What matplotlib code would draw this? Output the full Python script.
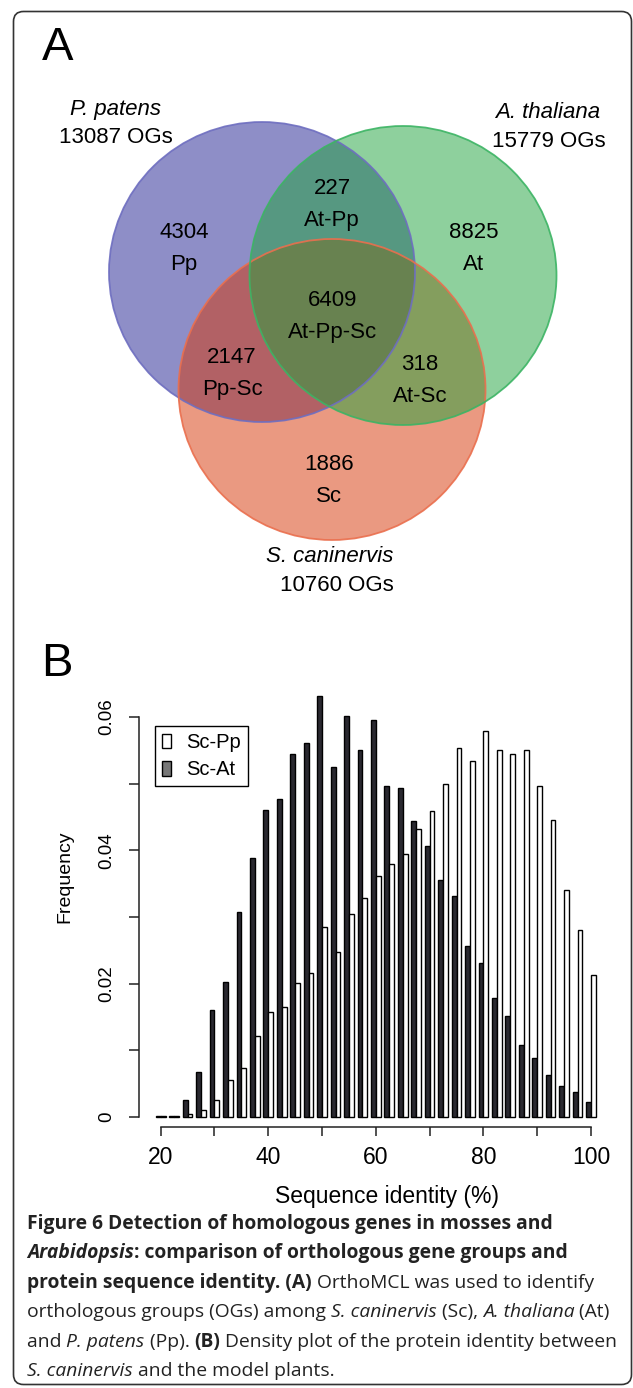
import numpy as np
import matplotlib
matplotlib.use('Agg')
import matplotlib.pyplot as plt
from matplotlib.patches import Ellipse, FancyBboxPatch, Patch

plt.rcParams['font.family'] = ['Liberation Sans', 'DejaVu Sans']

# ---- panel A : Venn counts ----
venn_sets = ['P. patens', 'A. thaliana', 'S. caninervis']
venn_totals = ['13087 OGs', '15779 OGs', '10760 OGs']
region_names = ['Pp', 'At-Pp', 'At', 'At-Pp-Sc', 'Pp-Sc', 'At-Sc', 'Sc']
region_counts = [4304, 227, 8825, 6409, 2147, 318, 1886]

# ---- panel B : identity histogram ----
identity = [20, 22.5, 25, 27.5, 30, 32.5, 35, 37.5, 40, 42.5, 45, 47.5, 50,
            52.5, 55, 57.5, 60, 62.5, 65, 67.5, 70, 72.5, 75, 77.5, 80,
            82.5, 85, 87.5, 90, 92.5, 95, 97.5, 100]
sc_at = [0.0002, 0.0002, 0.0025, 0.0067, 0.0161, 0.0203, 0.0308, 0.0388,
         0.0461, 0.0477, 0.0544, 0.0561, 0.0632, 0.0525, 0.0601, 0.0550,
         0.0595, 0.0497, 0.0494, 0.0444, 0.0406, 0.0356, 0.0331, 0.0257,
         0.0231, 0.0179, 0.0152, 0.0108, 0.0088, 0.0063, 0.0047, 0.0037,
         0.0023]
sc_pp = [0.0001, 0.0002, 0.0005, 0.0010, 0.0025, 0.0056, 0.0073, 0.0122,
         0.0157, 0.0165, 0.0201, 0.0216, 0.0285, 0.0248, 0.0305, 0.0328,
         0.0362, 0.0380, 0.0394, 0.0432, 0.0459, 0.0500, 0.0553, 0.0534,
         0.0579, 0.0551, 0.0545, 0.0550, 0.0497, 0.0445, 0.0340, 0.0280,
         0.0213]

W, H = 633, 1388
fig = plt.figure(figsize=(W / 100, H / 100), dpi=100)
bg = fig.add_axes([0, 0, 1, 1])
bg.set_xlim(0, W)
bg.set_ylim(H, 0)
bg.axis('off')

bg.add_patch(FancyBboxPatch((13.5, 11.5), 618, 1373, boxstyle='round,pad=0,rounding_size=10',
                            fc='none', ec='#333333', lw=1.2))

# circles: blue, red, green drawn in this order
circ = [((262, 272), 306, 300, '#1f1f91', '#6e6ec0'),
        ((332, 389.5), 307, 301, '#d73505', '#ea6f4e'),
        ((403, 275.5), 307, 299, '#1fa33d', '#3cb464')]
for (c, w, h, fc, ec) in circ:
    bg.add_patch(Ellipse(c, w, h, fc=fc, ec='none', alpha=0.5))
for (c, w, h, fc, ec) in circ:
    bg.add_patch(Ellipse(c, w, h, fc='none', ec=ec, lw=1.3, alpha=0.9))

vs = 16
bg.text(115, 109, venn_sets[0], fontsize=vs, style='italic', ha='center', va='center')
bg.text(116, 137, venn_totals[0], fontsize=vs, ha='center', va='center')
bg.text(548, 112, venn_sets[1], fontsize=vs, style='italic', ha='center', va='center')
bg.text(549, 141, venn_totals[1], fontsize=vs, ha='center', va='center')
bg.text(330, 556, venn_sets[2], fontsize=vs, style='italic', ha='center', va='center')
bg.text(337, 585, venn_totals[2], fontsize=vs, ha='center', va='center')

region_xy = [(184, 232), (332, 188), (474, 232), (333, 300), (232, 357), (420, 364), (329, 464)]
for (x, y), name, cnt in zip(region_xy, region_names, region_counts):
    bg.text(x, y, str(cnt), fontsize=vs, ha='center', va='center')
    bg.text(x, y + 32, name, fontsize=vs, ha='center', va='center')

bg.text(58, 48, 'A', fontsize=34, ha='center', va='center')
bg.text(57, 664, 'B', fontsize=34, ha='center', va='center')

# ---- histogram ----
ax = fig.add_axes([139.2 / W, (H - 1127) / H, 473.3 / W, 450 / H])
x = np.array(identity)
ax.bar(x - 0.45, sc_at, width=0.9, color='#2a2930', edgecolor='black', lw=1.0)
ax.bar(x + 0.45, sc_pp, width=0.9, color='white', edgecolor='black', lw=1.0)
ax.set_xlim(16, 104)
ax.set_ylim(-0.0015, 0.066)
for s in ['top', 'right']:
    ax.spines[s].set_visible(False)
ax.spines['left'].set_bounds(0, 0.06)
ax.spines['bottom'].set_bounds(20, 100)
for s in ['left', 'bottom']:
    ax.spines[s].set_linewidth(1.1)
    ax.spines[s].set_color('#222222')

ax.set_yticks([0, 0.01, 0.02, 0.03, 0.04, 0.05, 0.06])
ax.set_yticklabels(['0', '', '0.02', '', '0.04', '', '0.06'], rotation=90, va='center')
ax.set_xticks(range(20, 101, 10))
ax.set_xticklabels(['20', '', '40', '', '60', '', '80', '', '100'])
ax.tick_params(axis='y', length=7, width=1.1, pad=10, labelsize=13.5, color='#222222')
ax.tick_params(axis='x', length=6.5, width=1.1, pad=7, labelsize=16.5, color='#222222')

ax.set_ylabel('Frequency', fontsize=14)
ax.yaxis.set_label_coords(-0.14, 0.556)
ax.set_xlabel('Sequence identity (%)', fontsize=16.5)
ax.xaxis.set_label_coords(0.5246, -0.129)

handles = [Patch(fc='white', ec='black', label='Sc-Pp'),
           Patch(fc='#777777', ec='black', label='Sc-At')]
leg = ax.legend(handles=handles, loc='upper left', bbox_to_anchor=(0.0334, 0.891),
                borderaxespad=0, fancybox=False, edgecolor='black', framealpha=1,
                handlelength=0.45, handleheight=0.75, handletextpad=0.75,
                borderpad=0.35, labelspacing=0.4, fontsize=14.5)
leg.get_frame().set_linewidth(1.0)

# ---- caption ----
renderer = fig.canvas.get_renderer()
cap_size = 13.9
cap_lines = [
    [('Figure 6 Detection of homologous genes in mosses and', 'bold', 'normal')],
    [('Arabidopsis', 'bold', 'italic'), (': comparison of orthologous gene groups and', 'bold', 'normal')],
    [('protein sequence identity. (A)', 'bold', 'normal'), (' OrthoMCL was used to identify', 'normal', 'normal')],
    [('orthologous groups (OGs) among ', 'normal', 'normal'), ('S. caninervis', 'normal', 'italic'),
     (' (Sc), ', 'normal', 'normal'), ('A. thaliana', 'normal', 'italic'), (' (At)', 'normal', 'normal')],
    [('and ', 'normal', 'normal'), ('P. patens', 'normal', 'italic'), (' (Pp). ', 'normal', 'normal'),
     ('(B)', 'bold', 'normal'), (' Density plot of the protein identity between', 'normal', 'normal')],
    [('S. caninervis', 'normal', 'italic'), (' and the model plants.', 'normal', 'normal')],
]
for i, runs in enumerate(cap_lines):
    xp = 27
    yp = 1229 + 29.4 * i
    for txt, wt, st in runs:
        t = bg.text(xp, yp, txt, fontsize=cap_size, fontweight=wt, fontstyle=st,
                    family=['Open Sans', 'DejaVu Sans'], ha='left', va='baseline', color='#222222')
        bb = t.get_window_extent(renderer)
        xp += bb.width

fig.savefig('out.png', dpi=100)
